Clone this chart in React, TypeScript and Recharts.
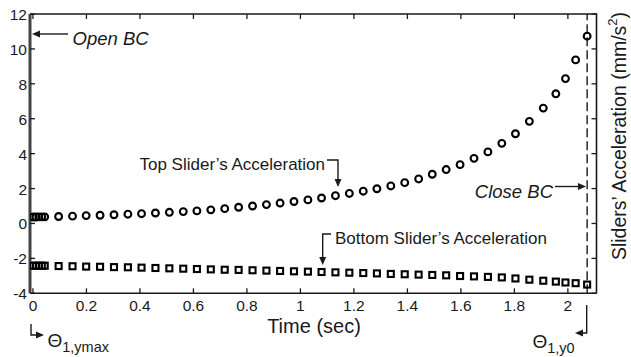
import { ReferenceLine, Scatter, ScatterChart, XAxis, YAxis } from "recharts";

// time samples (s) shared by both sliders
const timeSec = [
  0, 0.011, 0.022, 0.033, 0.044,
  0.096, 0.148, 0.199, 0.251, 0.303, 0.355, 0.406, 0.458, 0.51, 0.562,
  0.613, 0.665, 0.717, 0.769, 0.821, 0.873, 0.924, 0.976, 1.028, 1.079,
  1.131, 1.183, 1.235, 1.286, 1.338, 1.39, 1.442, 1.493, 1.545, 1.597,
  1.649, 1.701, 1.753, 1.804, 1.856, 1.908, 1.955, 1.991, 2.029, 2.072,
];

// top slider acceleration (mm/s^2)
const topAccel = [
  0.37, 0.37, 0.38, 0.38, 0.38,
  0.4, 0.42, 0.45, 0.47, 0.5, 0.53, 0.56, 0.6, 0.64, 0.68,
  0.72, 0.78, 0.85, 0.93, 1.0, 1.08, 1.17, 1.26, 1.35, 1.46,
  1.59, 1.72, 1.85, 1.99, 2.15, 2.34, 2.55, 2.82, 3.09, 3.37,
  3.73, 4.1, 4.59, 5.14, 5.85, 6.61, 7.43, 8.3, 9.37, 10.73,
];

// bottom slider acceleration (mm/s^2)
const bottomAccel = [
  -2.42, -2.42, -2.42, -2.42, -2.42,
  -2.44, -2.45, -2.47, -2.48, -2.5, -2.51, -2.53, -2.55, -2.57, -2.59,
  -2.61, -2.63, -2.65, -2.66, -2.68, -2.7, -2.72, -2.74, -2.76, -2.78,
  -2.8, -2.82, -2.84, -2.86, -2.89, -2.91, -2.93, -2.95, -2.97, -3.01,
  -3.03, -3.06, -3.09, -3.15, -3.22, -3.28, -3.33, -3.38, -3.42, -3.5,
];

const xTicks = [0, 0.2, 0.4, 0.6, 0.8, 1, 1.2, 1.4, 1.6, 1.8, 2];
const yTicks = [-4, -2, 0, 2, 4, 6, 8, 10, 12];
const closeTime = 2.072;
const xDomain: [number, number] = [-0.011, 2.107];

const W = 631;
const H = 357;
const PLOT = { left: 30, right: 596.5, top: 14, bottom: 293.3 };
const X_AXIS_H = 24;
const INK = "#1a1a1a";
const FONT = '"Liberation Sans", Arial, Helvetica, sans-serif';

const topData = timeSec.map((t, i) => ({ t, a: topAccel[i] }));
const bottomData = timeSec.map((t, i) => ({ t, a: bottomAccel[i] }));

function XTick(props: any) {
  const { x, payload } = props;
  return (
    <g>
      <line x1={x} x2={x} y1={PLOT.bottom} y2={PLOT.bottom - 5} stroke={INK} strokeWidth={1.3} />
      <line x1={x} x2={x} y1={PLOT.top} y2={PLOT.top + 5} stroke={INK} strokeWidth={1.3} />
      <text x={x} y={PLOT.bottom + 17.5} textAnchor="middle" fontSize={15.5} fill={INK}>
        {payload.value}
      </text>
    </g>
  );
}

function YTick(props: any) {
  const { y, payload } = props;
  return (
    <g>
      <line x1={PLOT.left} x2={PLOT.left + 5} y1={y} y2={y} stroke={INK} strokeWidth={1.3} />
      <line x1={PLOT.right} x2={PLOT.right - 5} y1={y} y2={y} stroke={INK} strokeWidth={1.3} />
      <text x={PLOT.left - 3} y={y + 6} textAnchor="end" fontSize={15.5} fill={INK}>
        {payload.value}
      </text>
    </g>
  );
}

const OpenCircle = (p: any) => (
  <circle cx={p.cx} cy={p.cy} r={3.4} fill="none" stroke="#000" strokeWidth={2.1} />
);
const OpenSquare = (p: any) => (
  <rect x={p.cx - 3} y={p.cy - 3} width={6} height={6} fill="none" stroke="#000" strokeWidth={2.1} />
);

// little filled triangle, tip at (x, y)
function Head({ x, y, dir }: { x: number; y: number; dir: "l" | "r" | "d" }) {
  const L = 8;
  const w = 3.5;
  let pts = "";
  if (dir === "l") pts = `${x},${y} ${x + L},${y - w} ${x + L},${y + w}`;
  if (dir === "r") pts = `${x},${y} ${x - L},${y - w} ${x - L},${y + w}`;
  if (dir === "d") pts = `${x},${y} ${x - w},${y - L} ${x + w},${y - L}`;
  return <polygon points={pts} fill={INK} />;
}

function Annotations() {
  const line = { stroke: INK, strokeWidth: 1.4, fill: "none" };
  return (
    <svg width={W} height={H} style={{ position: "absolute", left: 0, top: 0, pointerEvents: "none" }}>
      {/* box: top and right edges */}
      <path
        d={`M${PLOT.left},${PLOT.top} H${PLOT.right} V${PLOT.bottom}`}
        stroke={INK}
        strokeWidth={1.6}
        fill="none"
      />

      {/* Open BC */}
      <line x1={38} x2={68} y1={34} y2={34} {...line} />
      <Head x={32} y={34} dir="l" />
      <text x={72.5} y={45} fontSize={18.5} fontStyle="italic" fill={INK}>
        Open BC
      </text>

      {/* Close BC */}
      <text x={553} y={198} fontSize={18.5} fontStyle="italic" fill={INK} textAnchor="end">
        Close BC
      </text>
      <line x1={555} x2={580} y1={186.5} y2={186.5} {...line} />
      <Head x={586} y={186.5} dir="r" />

      {/* top slider label */}
      <text x={325} y={169.5} fontSize={17} fill={INK} textAnchor="end">
        Top Slider’s Acceleration
      </text>
      <path d="M327,160 H338 V180" {...line} />
      <Head x={338} y={187} dir="d" />

      {/* bottom slider label */}
      <text x={335} y={244} fontSize={17} fill={INK}>
        Bottom Slider’s Acceleration
      </text>
      <path d="M331,234 H322.7 V258" {...line} />
      <Head x={322.7} y={265} dir="d" />

      {/* theta y max */}
      <path d="M31,324 V335 H38" {...line} />
      <Head x={44} y={335} dir="r" />
      <text x={47.5} y={347} fontSize={19} fill={INK}>
        Θ
        <tspan fontSize={14.5} dy={5}>
          1,ymax
        </tspan>
      </text>

      {/* theta y0 */}
      <path d="M586.7,305 V333 H582" {...line} />
      <Head x={575} y={333} dir="l" />
      <text x={532.5} y={348} fontSize={19} fill={INK}>
        Θ
        <tspan fontSize={14.5} dy={5}>
          1,y0
        </tspan>
      </text>

      {/* axis titles */}
      <text x={314} y={333} fontSize={20} fill={INK} textAnchor="middle">
        Time (sec)
      </text>
      <text
        x={619}
        y={136}
        fontSize={19.5}
        fill={INK}
        textAnchor="middle"
        dominantBaseline="central"
        transform="rotate(-90 619 136)"
      >
        Sliders’ Acceleration (mm/s
        <tspan fontSize={13} dy={-7}>
          2
        </tspan>
        <tspan dy={7}>)</tspan>
      </text>
    </svg>
  );
}

export default function App() {
  return (
    <div
      style={{
        position: "absolute",
        left: 0,
        top: 0,
        width: W,
        height: H,
        background: "#fff",
        fontFamily: FONT,
      }}
    >
      <ScatterChart
        width={W}
        height={H}
        margin={{ top: PLOT.top, right: W - PLOT.right, bottom: H - PLOT.bottom - X_AXIS_H, left: 0 }}
      >
        <XAxis
          type="number"
          dataKey="t"
          domain={xDomain}
          ticks={xTicks}
          interval={0}
          height={X_AXIS_H}
          tickSize={0}
          tickMargin={0}
          tickLine={false}
          tick={XTick}
          axisLine={{ stroke: INK, strokeWidth: 1.5 }}
          allowDataOverflow
        />
        <YAxis
          type="number"
          dataKey="a"
          domain={[-4, 12]}
          ticks={yTicks}
          interval={0}
          width={PLOT.left}
          tickSize={0}
          tickMargin={0}
          tickLine={false}
          tick={YTick}
          axisLine={{ stroke: "#444", strokeWidth: 3 }}
          allowDataOverflow
        />
        <ReferenceLine x={closeTime} stroke={INK} strokeWidth={1.4} strokeDasharray="9 4" />
        <Scatter data={topData} shape={OpenCircle} isAnimationActive={false} />
        <Scatter data={bottomData} shape={OpenSquare} isAnimationActive={false} />
      </ScatterChart>
      <Annotations />
    </div>
  );
}
